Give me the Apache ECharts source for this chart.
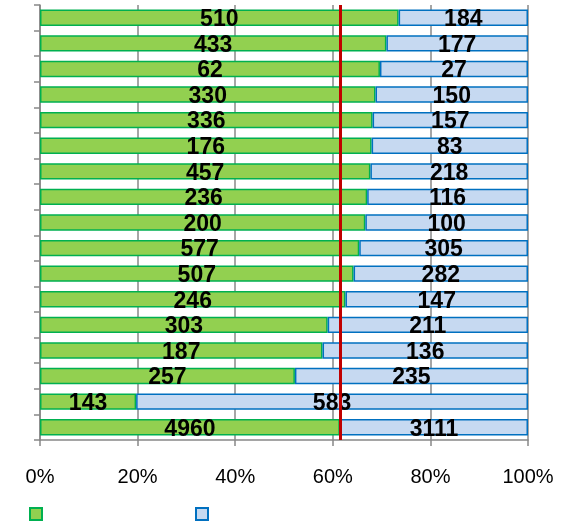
<!DOCTYPE html>
<html><head><meta charset="utf-8">
<script src="https://cdn.jsdelivr.net/npm/echarts@6/dist/echarts.min.js"></script>
<style>html,body{margin:0;padding:0;background:#fff}#c{width:568px;height:523px}</style>
</head><body><div id="c"></div>
<script>
const categories = ['1','2','3','4','5','6','7','8','9','10','11','12','13','14','15','16','17'];
const greenCounts = [510,433,62,330,336,176,457,236,200,577,507,246,303,187,257,143,4960];
const blueCounts  = [184,177,27,150,157,83,218,116,100,305,282,147,211,136,235,583,3111];
const xTicks = [0,20,40,60,80,100];

const totals = greenCounts.map((g,i)=>g+blueCounts[i]);
const greenData = greenCounts.map((g,i)=>({value: g/totals[i]*100, raw: g}));
const blueData = blueCounts.map((b,i)=>({value: b/totals[i]*100, raw: b}));
const last = greenCounts.length-1;
const refLine = greenCounts[last]/totals[last]*100;

const chart = echarts.init(document.getElementById('c'));
const labelStyle = {show:true, position:'inside', color:'#000', fontFamily:'Liberation Sans, Arial, sans-serif',
  fontWeight:'bold', fontSize:23, offset:[0,2], formatter: p => p.data.raw};
chart.setOption({
  animation:false,
  grid:{left:40,right:40,top:5,bottom:83,containLabel:false},
  xAxis:{type:'value',min:xTicks[0],max:xTicks[xTicks.length-1],interval:20,
    axisLine:{show:true,lineStyle:{color:'#888',width:1.5}},
    axisTick:{show:true,length:6,lineStyle:{color:'#888',width:1.5}},
    splitLine:{show:true,lineStyle:{color:'#888',width:1.5}},
    axisLabel:{margin:27,fontSize:20,color:'#000',fontFamily:'Liberation Sans, Arial, sans-serif',formatter:v=>v+'%'}},
  yAxis:{type:'category',data:categories,inverse:true,
    axisLine:{show:true,lineStyle:{color:'#888',width:1.5}},
    axisTick:{show:true,length:6,inside:false,lineStyle:{color:'#888',width:1.5}},
    axisLabel:{show:false},splitLine:{show:false}},
  legend:[
    {data:['\u200b'],left:24,top:502,itemWidth:12,itemHeight:12,textStyle:{fontSize:1},icon:'rect'},
    {data:['\u200b\u200b'],left:190,top:502,itemWidth:12,itemHeight:12,textStyle:{fontSize:1},icon:'rect'}
  ],
  series:[
    {name:'\u200b',type:'bar',stack:'s',barWidth:'64%',data:greenData,
      itemStyle:{color:'#92D050',borderColor:'#00B050',borderWidth:1.5},
      label:labelStyle,
      markLine:{silent:true,symbol:'none',label:{show:false},
        lineStyle:{color:'#C00000',width:3,type:'solid'},data:[{xAxis:refLine}]}},
    {name:'\u200b\u200b',type:'bar',stack:'s',barWidth:'64%',data:blueData,
      itemStyle:{color:'#C6D9F1',borderColor:'#0070C0',borderWidth:1.5},
      label:labelStyle}
  ]
});
</script></body></html>
